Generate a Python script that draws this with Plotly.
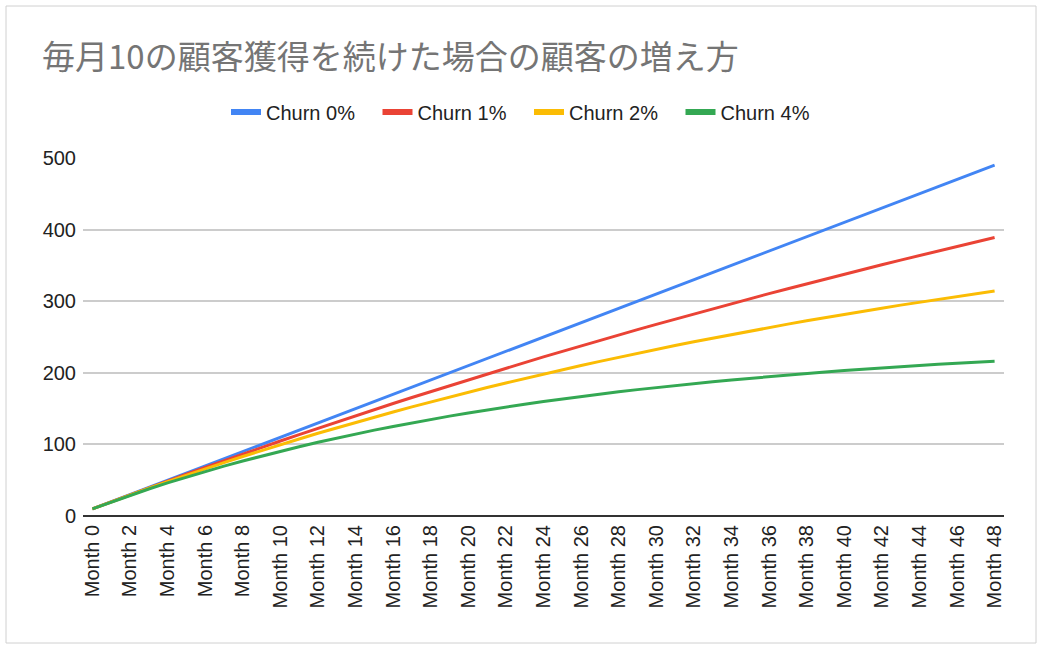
import plotly.graph_objects as go

months = [f"Month {i}" for i in range(49)]
tick_labels = [f"Month {i}" for i in range(0, 49, 2)]

churn_0 = [10, 20, 30, 40, 50, 60, 70, 80, 90, 100, 110, 120, 130, 140, 150, 160, 170,
           180, 190, 200, 210, 220, 230, 240, 250, 260, 270, 280, 290, 300, 310, 320, 330,
           340, 350, 360, 370, 380, 390, 400, 410, 420, 430, 440, 450, 460, 470, 480, 490]
churn_1 = [10.0, 19.9, 29.7, 39.4, 49.0, 58.5, 67.9, 77.3, 86.5, 95.6, 104.7, 113.6, 122.5,
           131.3, 139.9, 148.5, 157.1, 165.5, 173.8, 182.1, 190.3, 198.4, 206.4, 214.3, 222.2,
           230.0, 237.7, 245.3, 252.8, 260.3, 267.7, 275.0, 282.3, 289.4, 296.6, 303.6, 310.6,
           317.4, 324.3, 331.0, 337.7, 344.3, 350.9, 357.4, 363.8, 370.2, 376.5, 382.7, 388.9]
churn_2 = [10.0, 19.8, 29.4, 38.8, 48.0, 57.1, 65.9, 74.6, 83.1, 91.5, 99.6, 107.6, 115.5,
           123.2, 130.7, 138.1, 145.3, 152.4, 159.4, 166.2, 172.9, 179.4, 185.8, 192.1, 198.3,
           204.3, 210.2, 216.0, 221.7, 227.3, 232.7, 238.1, 243.3, 248.4, 253.5, 258.4, 263.2,
           268.0, 272.6, 277.2, 281.6, 286.0, 290.3, 294.5, 298.6, 302.6, 306.5, 310.4, 314.2]
churn_4 = [10.0, 19.6, 28.8, 37.7, 46.2, 54.3, 62.1, 69.7, 76.9, 83.8, 90.4, 96.8, 102.9,
           108.8, 114.5, 119.9, 125.1, 130.1, 134.9, 139.5, 143.9, 148.2, 152.2, 156.1, 159.9,
           163.5, 167.0, 170.3, 173.5, 176.5, 179.5, 182.3, 185.0, 187.6, 190.1, 192.5, 194.8,
           197.0, 199.1, 201.2, 203.1, 205.0, 206.8, 208.5, 210.2, 211.8, 213.3, 214.8, 216.2]

series = [
    ("Churn 0%", churn_0, "#4285F4"),
    ("Churn 1%", churn_1, "#EA4335"),
    ("Churn 2%", churn_2, "#FBBC04"),
    ("Churn 4%", churn_4, "#34A853"),
]

title_text = "毎月10の顧客獲得を続けた場合の顧客の増え方"

W, H = 1042, 651
L, R, T, B = 83, 38, 158, 135
pw, ph = W - L - R, H - T - B

def px_x(x):
    return (x - L) / pw

def px_y(y):
    return (H - B - y) / ph

fig = go.Figure()
for name, vals, color in series:
    fig.add_trace(go.Scatter(x=months, y=vals, name=name, mode="lines",
                             line=dict(color=color, width=3), showlegend=False))
    fig.add_trace(go.Scatter(x=[None], y=[None], name=name, mode="lines",
                             line=dict(color=color, width=6), showlegend=True))

font_family = "Liberation Sans, Arial, sans-serif"

fig.update_layout(
    width=W, height=H,
    margin=dict(l=L, r=R, t=T, b=B, autoexpand=False),
    paper_bgcolor="white", plot_bgcolor="white",
    font=dict(family=font_family, size=20, color="#222222"),
    title=dict(text=title_text, x=42 / W, xanchor="left", xref="container",
               y=1 - 57 / H, yanchor="middle", yref="container",
               font=dict(family="Noto Sans CJK JP", size=33, color="#757575")),
    legend=dict(orientation="h", x=px_x(226), xanchor="left", y=px_y(112), yanchor="middle",
                font=dict(family=font_family, size=20, color="#222222"),
                entrywidth=106.5, entrywidthmode="pixels",
                bgcolor="rgba(0,0,0,0)", traceorder="normal"),
    xaxis=dict(type="category", range=[-0.5, 48.5], tickvals=tick_labels, ticktext=tick_labels,
               tickangle=-90, showgrid=False, showline=False, zeroline=False, ticks="",
               ticklabelstandoff=4, tickfont=dict(size=20, color="#222222")),
    yaxis=dict(range=[0, 500], tickvals=[0, 100, 200, 300, 400, 500], showgrid=True,
               gridcolor="#cccccc", gridwidth=1.5, zeroline=True, zerolinecolor="#333333",
               zerolinewidth=1.5, showline=False, ticks="", ticklabelstandoff=6,
               tickfont=dict(size=20, color="#222222")),
    shapes=[dict(type="rect", xref="paper", yref="paper",
                 x0=px_x(6), x1=px_x(1036), y0=px_y(643), y1=px_y(6),
                 line=dict(color="#d0d0d0", width=1), layer="below")],
)

fig.write_html("out.html", config={"displayModeBar": False},
               post_script="document.body.style.margin='0';document.body.style.overflow='hidden';")
